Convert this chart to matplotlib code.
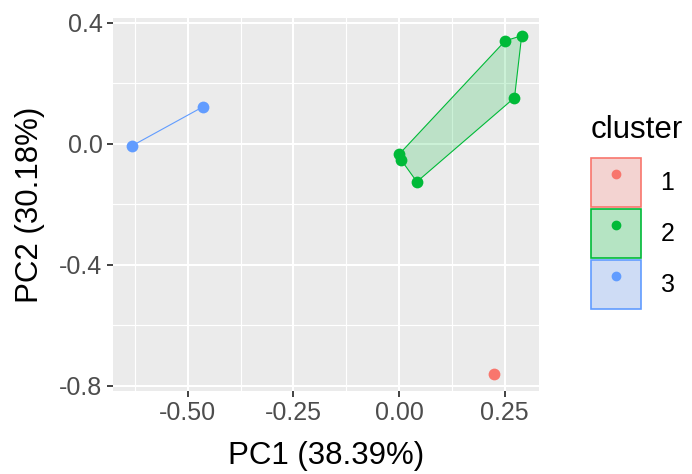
import numpy as np
import matplotlib
matplotlib.use("Agg")
import matplotlib.pyplot as plt
from matplotlib.patches import Patch, Polygon
from matplotlib.lines import Line2D
from matplotlib.legend_handler import HandlerTuple

plt.rcParams['font.family'] = ['Liberation Sans', 'DejaVu Sans']
plt.rcParams['axes.unicode_minus'] = False

# data
pc1 = [0.225, 0.251, 0.290, 0.273, 0.042, 0.000, 0.005, -0.632, -0.464]
pc2 = [-0.761, 0.340, 0.357, 0.152, -0.126, -0.035, -0.054, -0.007, 0.122]
cluster = [1, 2, 2, 2, 2, 2, 2, 3, 3]
cluster_names = [1, 2, 3]
cluster_colors = ['#F8766D', '#00BA38', '#619CFF']
xticks = [-0.50, -0.25, 0.00, 0.25]
xticklabels = ['-0.50', '-0.25', '0.00', '0.25']
yticks = [0.4, 0.0, -0.4, -0.8]
yticklabels = ['0.4', '0.0', '-0.4', '-0.8']


def hull(pts):
    # monotone chain convex hull
    pts = sorted(set(pts))
    if len(pts) < 3:
        return pts
    def cross(o, a, b):
        return (a[0]-o[0])*(b[1]-o[1]) - (a[1]-o[1])*(b[0]-o[0])
    lower = []
    for p in pts:
        while len(lower) >= 2 and cross(lower[-2], lower[-1], p) <= 0:
            lower.pop()
        lower.append(p)
    upper = []
    for p in reversed(pts):
        while len(upper) >= 2 and cross(upper[-2], upper[-1], p) <= 0:
            upper.pop()
        upper.append(p)
    return lower[:-1] + upper[:-1]


def blend(col, alpha, bg=(0.949, 0.949, 0.949)):
    r, g, b = matplotlib.colors.to_rgb(col)
    return tuple(alpha*c + (1-alpha)*k for c, k in zip((r, g, b), bg))


fig = plt.figure(figsize=(6.92, 4.74), dpi=100)
ax = fig.add_axes([113/692, 1-391/474, 426/692, 373/474])
ax.set_facecolor('#EBEBEB')

x = np.array(pc1)
y = np.array(pc2)
cl = np.array(cluster)

for c, col in zip(cluster_names, cluster_colors):
    m = cl == c
    h = hull(list(zip(x[m], y[m])))
    if len(h) >= 2:
        ax.add_patch(Polygon(h, closed=True, facecolor=col, alpha=0.2,
                             edgecolor='none', zorder=2))
        ax.add_patch(Polygon(h, closed=True, facecolor='none',
                             edgecolor=col, lw=0.8, zorder=2))
    ax.scatter(x[m], y[m], s=72, color=col, zorder=3, linewidths=0)

ax.set_xlim(-0.677, 0.331)
ax.set_ylim(-0.8175, 0.4155)
ax.set_xticks(xticks)
ax.set_xticklabels(xticklabels)
ax.set_yticks(yticks)
ax.set_yticklabels(yticklabels)
ax.set_xticks([-0.625, -0.375, -0.125, 0.125], minor=True)
ax.set_yticks([0.2, -0.2, -0.6], minor=True)
ax.grid(which='major', color='white', lw=1.5)
ax.grid(which='minor', color='white', lw=0.8)
ax.set_axisbelow(True)
ax.tick_params(which='major', colors='#333333', labelcolor='#4D4D4D',
               labelsize=18, length=4, width=1.3)
ax.tick_params(which='minor', length=0)
for s in ax.spines.values():
    s.set_visible(False)

ax.set_xlabel('PC1 (38.39%)', fontsize=22.5, labelpad=11)
ax.set_ylabel('PC2 (30.18%)', fontsize=22.5, labelpad=10)

handles = []
for col in cluster_colors:
    box = Patch(facecolor=blend(col, 0.25), edgecolor=col, lw=1.2)
    dot = Line2D([], [], marker='o', color=col, ls='none', markersize=6)
    handles.append((box, dot))
leg = fig.legend(handles, [str(c) for c in cluster_names], title='cluster',
                 loc='upper left', bbox_to_anchor=(578/692, 1-102/474),
                 frameon=False, fontsize=18, title_fontsize=22.5,
                 handler_map={tuple: HandlerTuple(ndivide=1, pad=0)},
                 handlelength=2.0, handleheight=2.6, handletextpad=0.8,
                 labelspacing=0.1, borderpad=0, alignment='left')
leg._legend_box.sep = 10

fig.savefig('out.png', dpi=100)
